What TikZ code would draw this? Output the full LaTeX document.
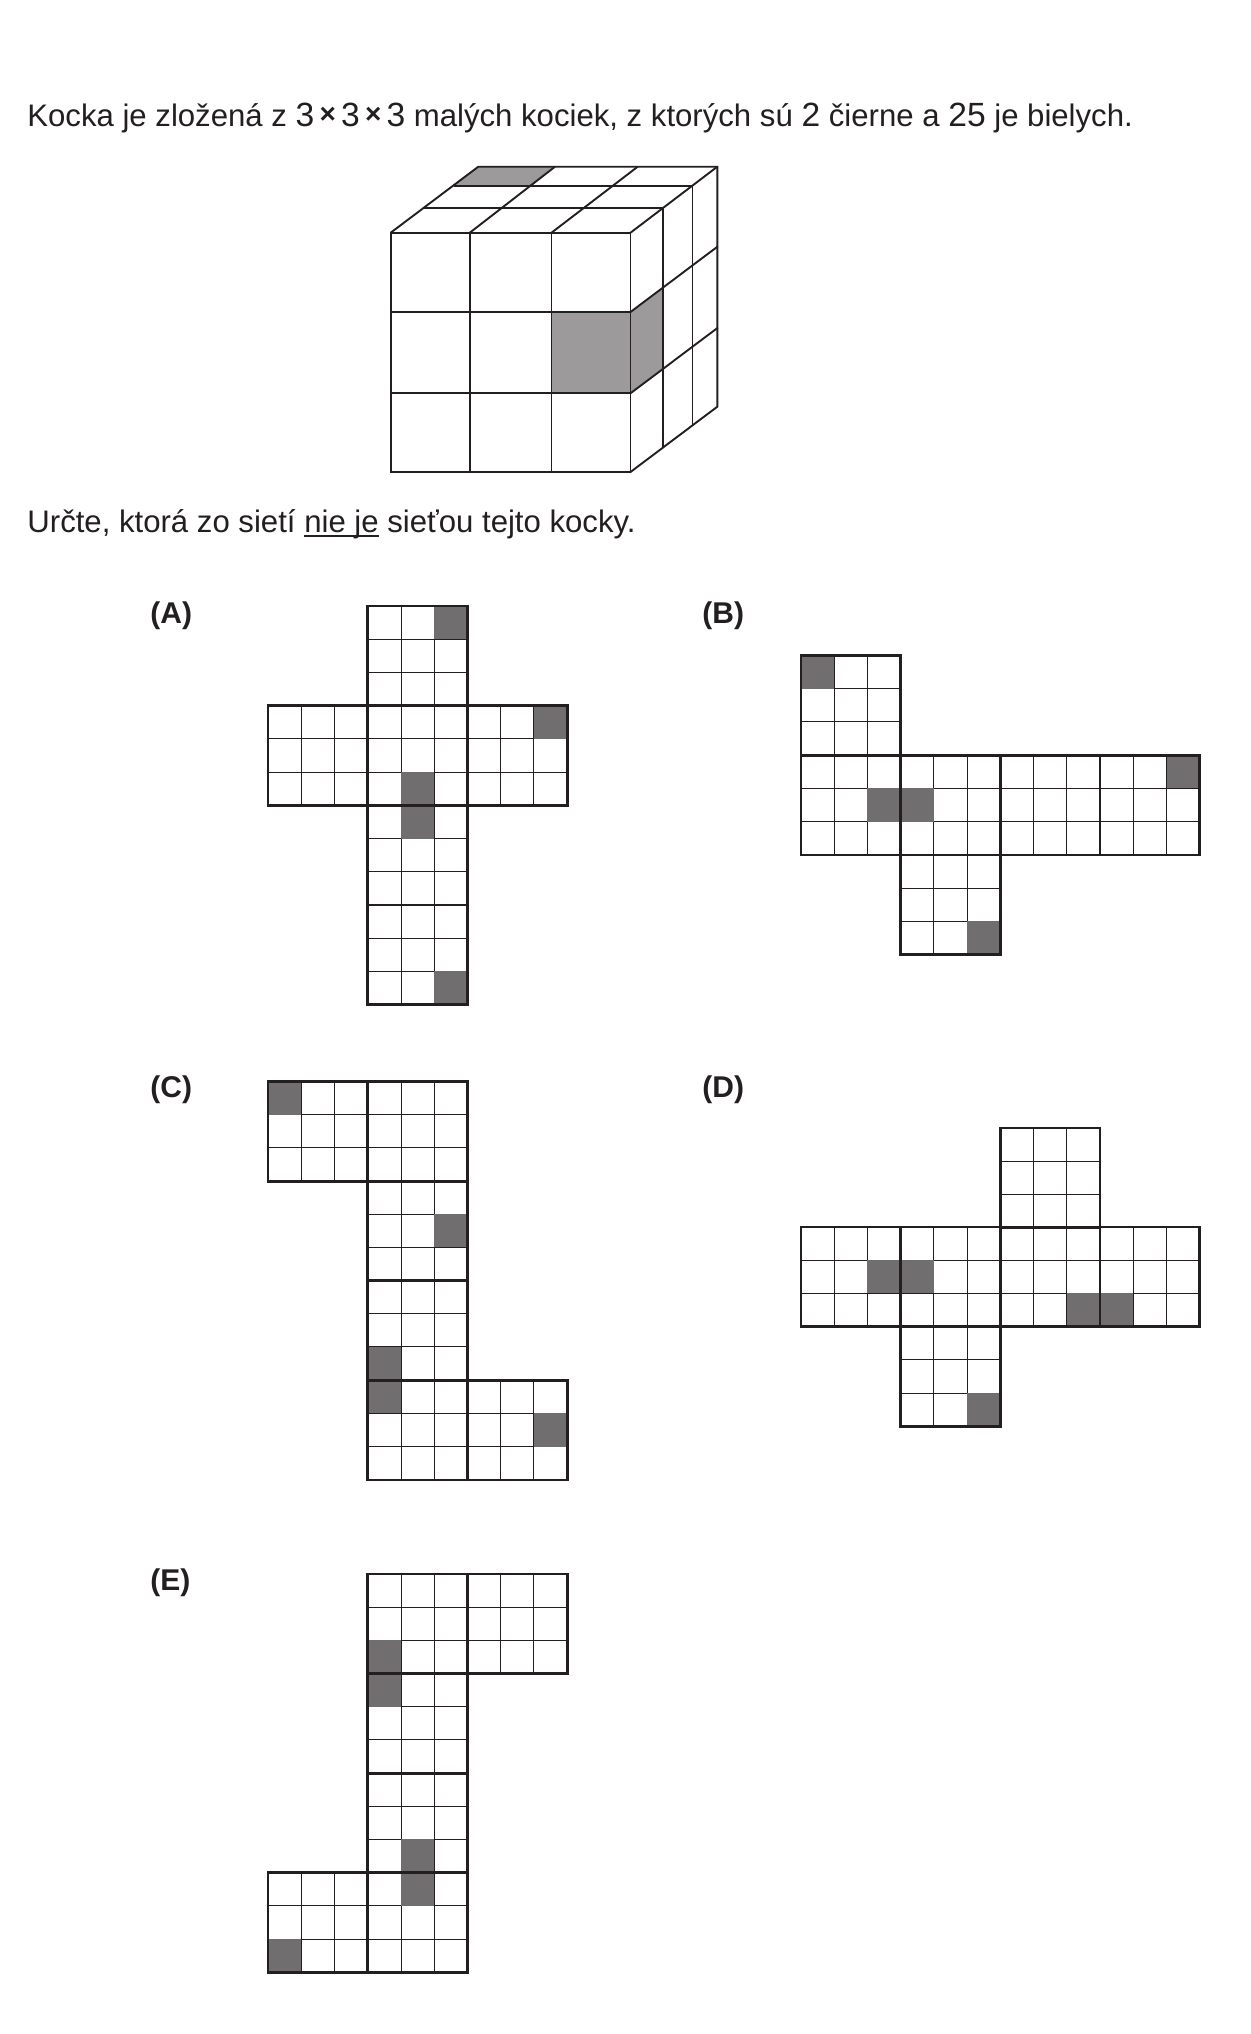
\documentclass[tikz,border=0pt]{standalone}
\usepackage{fontspec}
\setmainfont{Liberation Sans}
\usepackage{xcolor}
\usetikzlibrary{positioning, calc}
\definecolor{inkline}{HTML}{231F20}
\definecolor{cubegray}{HTML}{9C9A9B}
\definecolor{netgray}{HTML}{706E6F}
\newcommand{\numfont}[1]{{\fontsize{16.8}{20}\selectfont #1}}
\newcommand{\timesmark}{\hspace{2.6pt}\raisebox{1.2pt}{\fontsize{14}{16}\selectfont\bfseries ×}\hspace{2.6pt}}
\newcommand{\stressed}[1]{\setbox0=\hbox{#1}\rlap{\rule[-2.4pt]{\wd0}{0.95pt}}\box0\relax}
% one face of a net, top-left corner at (#1,#2)
\newcommand{\netface}[2]{
  \foreach \k in {1,2} {
    \draw[cellline] (#1+\k*33.23,#2) -- (#1+\k*33.23,#2+99.7);
    \draw[cellline] (#1,#2+\k*33.23) -- (#1+99.7,#2+\k*33.23);
  }
}
% dark cell of face (#1,#2), column #3, row #4
\newcommand{\netcell}[4]{
  \fill[netgray] (#1+#3*33.23,#2+#4*33.23) rectangle ++(33.23,33.23);
}
\begin{document}
\begin{tikzpicture}[x=0.5pt, y=-0.5pt, line join=miter,
  cubeline/.style={draw=inkline, line width=0.95pt},
  cellline/.style={draw=inkline, line width=0.5pt},
  netline/.style={draw=inkline, line width=1.35pt},
  prose/.style={anchor=base west, inner sep=0pt, font=\fontsize{15.57}{18}\selectfont, text=inkline},
  tag/.style={anchor=base west, inner sep=0pt, font=\fontsize{15}{18}\selectfont\bfseries, text=inkline}]
\useasboundingbox (0,0) rectangle (1250,2034);
\fill[white] (0,0) rectangle (1250,2034);

\node[prose] (intro) at (27,126) {Kocka je zložená z \numfont{3}\timesmark\numfont{3}\timesmark\numfont{3} malých kociek, z ktorých sú \numfont{2} čierne a \numfont{25} je bielych.};
\node[prose] (task) at (27,532) {Určte, ktorá zo sietí \stressed{nie je} sieťou tejto kocky.};
\node[tag] (tagA) at (150,623) {(A)};
\node[tag] (tagB) at (702,623) {(B)};
\node[tag] (tagC) at (150,1097) {(C)};
\node[tag] (tagD) at (702,1097) {(D)};
\node[tag] (tagE) at (150,1590) {(E)};

% cube
\fill[cubegray] (551,312) rectangle (630,393.3);
\fill[cubegray] (630,312) -- (662.7,287.7) -- (662.7,369) -- (630,393.3) -- cycle;
\fill[cubegray] (454,185.7) -- (478.3,166.7) -- (555,166.7) -- (531.7,185.7) -- cycle;
\draw[cubeline] (390.7,232.7) rectangle (630.5,472);
\foreach \x in {469.8,551.5} \draw[cubeline] (\x,232.7) -- (\x,472);
\foreach \y in {312,393.3} \draw[cubeline] (390.7,\y) -- (630.5,\y);
\draw[cubeline] (390.7,232.7) -- (478.3,166.7) -- (717.3,166.7) -- (717.3,406.7) -- (630.5,472);
\foreach \x/\z in {469.8/555,551.5/637.7,630.5/717.3} \draw[cubeline] (\x,232.7) -- (\z,166.7);
\foreach \y in {312,393.3} \draw[cubeline] (630.5,\y) -- ++(87.3,-65.6);
\draw[cubeline] (423.3,208.3) -- (663,208.3) -- (663,448);
\draw[cubeline] (454,185.7) -- (692.5,185.7) -- (692.5,425.5);

% net A
\foreach \fx/\fy in {367.8/606,268/705.7,367.8/705.7,467.5/705.7,367.8/805.4,367.8/905} \netface{\fx}{\fy}
\netcell{367.8}{606}{2}{0}
\netcell{467.5}{705.7}{2}{0}
\netcell{367.8}{705.7}{1}{2}
\netcell{367.8}{805.4}{1}{0}
\netcell{367.8}{905}{2}{2}
\foreach \fx/\fy in {367.8/606,268/705.7,367.8/705.7,467.5/705.7,367.8/805.4,367.8/905} \draw[netline] (\fx,\fy) rectangle ++(99.7,99.7);

% net B
\foreach \fx/\fy in {801/655.5,801/755.2,900.7/755.2,1000.4/755.2,1100.1/755.2,900.7/854.9} \netface{\fx}{\fy}
\netcell{801}{655.5}{0}{0}
\netcell{801}{755.2}{2}{1}
\netcell{900.7}{755.2}{0}{1}
\netcell{1100.1}{755.2}{2}{0}
\netcell{900.7}{854.9}{2}{2}
\foreach \fx/\fy in {801/655.5,801/755.2,900.7/755.2,1000.4/755.2,1100.1/755.2,900.7/854.9} \draw[netline] (\fx,\fy) rectangle ++(99.7,99.7);

% net C
\foreach \fx/\fy in {268/1081.5,367.8/1081.5,367.8/1181,367.8/1280.5,367.8/1380.2,467.5/1380.2} \netface{\fx}{\fy}
\netcell{268}{1081.5}{0}{0}
\netcell{367.8}{1181}{2}{1}
\netcell{367.8}{1280.5}{0}{2}
\netcell{367.8}{1380.2}{0}{0}
\netcell{467.5}{1380.2}{2}{1}
\foreach \fx/\fy in {268/1081.5,367.8/1081.5,367.8/1181,367.8/1280.5,367.8/1380.2,467.5/1380.2} \draw[netline] (\fx,\fy) rectangle ++(99.7,99.7);

% net D
\foreach \fx/\fy in {1000.4/1128,801/1227,900.7/1227,1000.4/1227,1100.1/1227,900.7/1326.7} \netface{\fx}{\fy}
\netcell{801}{1227}{2}{1}
\netcell{900.7}{1227}{0}{1}
\netcell{1000.4}{1227}{2}{2}
\netcell{1100.1}{1227}{0}{2}
\netcell{900.7}{1326.7}{2}{2}
\foreach \fx/\fy in {1000.4/1128,801/1227,900.7/1227,1000.4/1227,1100.1/1227,900.7/1326.7} \draw[netline] (\fx,\fy) rectangle ++(99.7,99.7);

% net E
\foreach \fx/\fy in {367.8/1574,467.5/1574,367.8/1673.5,367.8/1773,268/1872.6,367.8/1872.6} \netface{\fx}{\fy}
\netcell{367.8}{1574}{0}{2}
\netcell{367.8}{1673.5}{0}{0}
\netcell{367.8}{1773}{1}{2}
\netcell{367.8}{1872.6}{1}{0}
\netcell{268}{1872.6}{0}{2}
\foreach \fx/\fy in {367.8/1574,467.5/1574,367.8/1673.5,367.8/1773,268/1872.6,367.8/1872.6} \draw[netline] (\fx,\fy) rectangle ++(99.7,99.7);
\end{tikzpicture}
\end{document}
